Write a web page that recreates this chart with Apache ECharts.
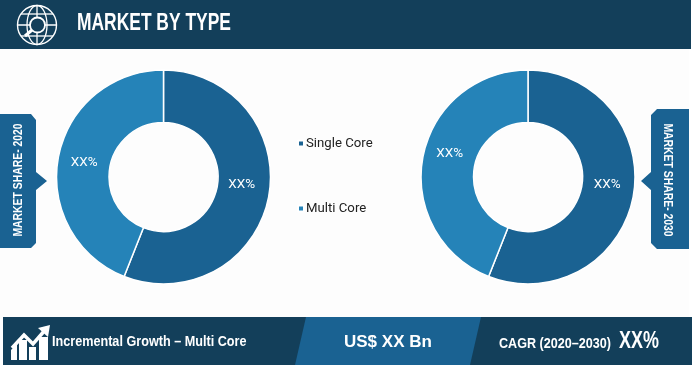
<!DOCTYPE html>
<html>
<head>
<meta charset="utf-8">
<style>
html, body { margin: 0; padding: 0; background: #fff; }
#main { width: 700px; height: 370px; }
</style>
<script src="https://cdn.jsdelivr.net/npm/echarts@6/dist/echarts.min.js"></script>
</head>
<body>
<div id="main"></div>
<script>
var categories = ['Single Core', 'Multi Core'];
var share2020 = [56, 44];
var share2030 = [56, 44];
var valueLabels = ['XX%', 'XX%'];

var dark = '#133f5a';
var mid = '#1a6292';
var light = '#2583b8';
var sans = '"Liberation Sans", sans-serif';

function pieData(values) {
    return categories.map(function (name, i) {
        return {
            name: name,
            value: values[i],
            itemStyle: { color: i == 0 ? mid : light },
            label: { formatter: valueLabels[i] }
        };
    });
}

function donut(center, values, shifts) {
    return {
        type: 'pie',
        center: center,
        radius: [54.5, 107],
        startAngle: 90,
        silent: true,
        data: pieData(values),
        itemStyle: { borderColor: '#fff', borderWidth: 1.5 },
        label: { position: 'inside', color: '#fff', fontSize: 13.5, fontFamily: 'Roboto' },
        labelLine: { show: false },
        labelLayout: function (params) {
            return { dx: shifts[params.dataIndex][0], dy: shifts[params.dataIndex][1] };
        }
    };
}

// squeezed text, the reference uses a condensed face
function text(x, y, str, font, scaleX, rotation) {
    return {
        type: 'text',
        z: 10,
        x: x,
        y: y,
        scaleX: scaleX || 1,
        rotation: rotation || 0,
        style: { text: str, fill: '#fff', font: font, textVerticalAlign: 'middle', textAlign: rotation ? 'center' : 'left' }
    };
}

function poly(points, fill) {
    return { type: 'polygon', z: 5, shape: { points: points }, style: { fill: fill } };
}

function line(x1, y1, x2, y2, w) {
    return { type: 'line', z: 7, shape: { x1: x1, y1: y1, x2: x2, y2: y2 }, style: { stroke: '#fff', lineWidth: w || 1.3 } };
}

function white(points) {
    var p = poly(points, '#fff');
    p.z = 7;
    return p;
}

var graphic = [
    // page and header
    { type: 'rect', z: 0, shape: { x: 0, y: 49, width: 689, height: 270 }, style: { fill: '#fdfdfd' } },
    { type: 'rect', z: 5, shape: { x: 0, y: 0, width: 691, height: 49 }, style: { fill: dark } },
    text(77, 23, 'MARKET BY TYPE', 'bold 24px ' + sans, 0.726),

    // globe icon
    { type: 'circle', z: 7, shape: { cx: 37, cy: 25, r: 19.5 }, style: { fill: 'none', stroke: '#fff', lineWidth: 1.4 } },
    { type: 'ellipse', z: 7, shape: { cx: 37, cy: 25, rx: 10, ry: 19.5 }, style: { fill: 'none', stroke: '#fff', lineWidth: 1.3 } },
    line(21, 14, 53, 14), line(18, 25, 56, 25), line(21, 36, 53, 36), line(37, 5.5, 37, 44.5),
    { type: 'circle', z: 8, shape: { cx: 37.5, cy: 25, r: 7.5 }, style: { fill: dark, stroke: '#fff', lineWidth: 1.8 } },
    { type: 'line', z: 8, shape: { x1: 32, y1: 30, x2: 25, y2: 36 }, style: { stroke: '#fff', lineWidth: 3 } },

    // left tag
    poly([[0, 114], [31, 114], [36, 120], [36, 172], [47, 181], [36, 190], [36, 243], [31, 248], [0, 248]], mid),
    text(18, 180, 'MARKET SHARE- 2020', 'bold 13.5px ' + sans, 0.77, Math.PI / 2),

    // right tag
    poly([[689, 109], [657, 109], [651, 115], [651, 172], [641, 181], [651, 190], [651, 243], [657, 249], [689, 249]], mid),
    text(668, 180, 'MARKET SHARE- 2030', 'bold 13.5px ' + sans, 0.77, -Math.PI / 2),

    // footer
    { type: 'rect', z: 5, shape: { x: 3, y: 317, width: 689, height: 48 }, style: { fill: dark } },
    poly([[306, 317], [481, 317], [470, 365], [295, 365]], mid),
    text(52, 342, 'Incremental Growth – Multi Core', 'bold 15.5px ' + sans, 0.815),
    text(344, 342, 'US$ XX Bn', 'bold 17px ' + sans),
    text(499, 344, 'CAGR (2020–2030)', 'bold 15px ' + sans, 0.84),
    text(619, 342, 'XX%', 'bold 23px ' + sans, 0.78),

    // growth icon
    white([[11, 350], [17, 344], [17, 360], [11, 360]]),
    white([[19, 340], [27, 340], [27, 360], [19, 360]]),
    white([[29, 347], [36, 347], [36, 360], [29, 360]]),
    white([[39, 337], [48, 337], [48, 360], [39, 360]]),
    { type: 'polyline', z: 8, shape: { points: [[12, 348], [24, 335], [33, 344], [46, 329]] }, style: { fill: 'none', stroke: '#fff', lineWidth: 3.5 } },
    white([[38, 328], [50, 325], [48, 337]])
];

var myChart = echarts.init(document.getElementById('main'), null, { renderer: 'canvas' });
myChart.setOption({
    animation: false,
    backgroundColor: '#fff',
    legend: {
        data: categories,
        orient: 'vertical',
        left: 297,
        top: 137,
        padding: 0,
        itemWidth: 6,
        itemHeight: 6,
        itemGap: 52,
        icon: 'rect',
        selectedMode: false,
        textStyle: { color: '#222', fontSize: 13.2, fontFamily: 'Roboto', padding: [0, 0, 0, -3] }
    },
    graphic: { elements: graphic },
    series: [
        donut([163.5, 177], share2020, [[-4, -8], [3, 1]]),
        donut([528, 177], share2030, [[-3, -8], [4, -8]])
    ]
});
</script>
</body>
</html>
